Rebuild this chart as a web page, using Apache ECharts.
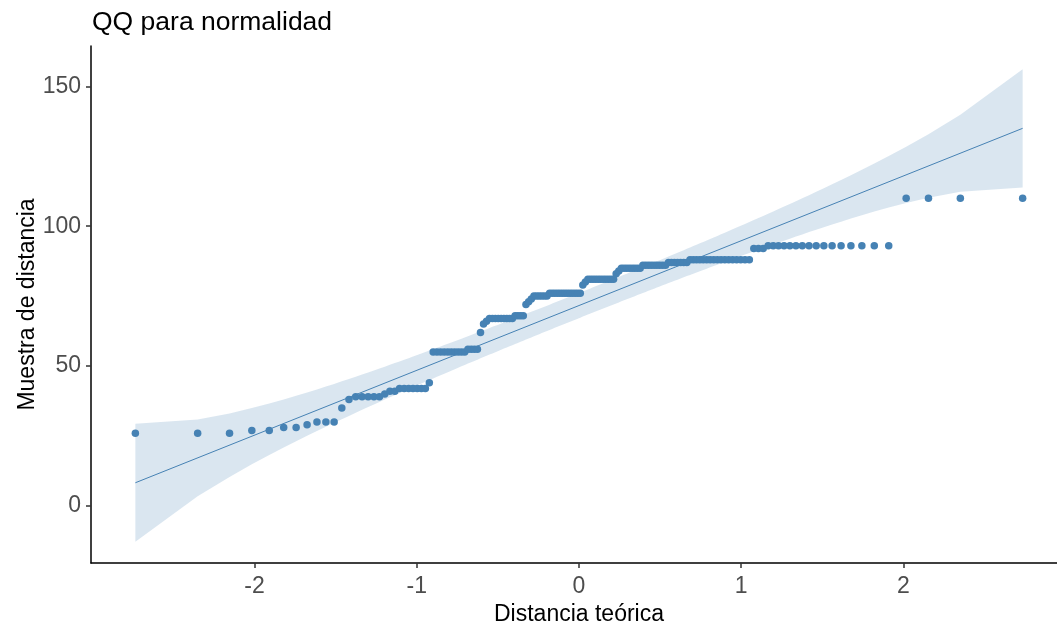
<!DOCTYPE html>
<html>
<head>
<meta charset="utf-8">
<title>QQ para normalidad</title>
<script src="https://cdn.jsdelivr.net/npm/echarts@6/dist/echarts.min.js"></script>
<style>
  html, body { margin: 0; padding: 0; background: #ffffff; }
  #chart { width: 1057px; height: 626px; }
</style>
</head>
<body>
<div id="chart"></div>
<script>
// Sorted sample of distances, run-length encoded: each value and how often it occurs.
const sampleValues = [26, 27, 28, 29, 30, 35, 38, 39, 40, 41, 42, 44, 55, 56, 62, 65, 66, 67, 68,
                      72, 73, 74, 75, 76, 79, 80, 81, 83, 84, 85, 86, 87, 88, 92, 93, 110];
const sampleCounts = [3, 2, 2, 1, 3, 1, 1, 5, 1, 2, 7, 1, 10, 4, 1, 1, 1, 9, 4,
                      1, 1, 1, 6, 13, 1, 1, 11, 1, 1, 8, 9, 7, 17, 3, 16, 4];
const xTickValues = [-2, -1, 0, 1, 2];
const yTickValues = [0, 50, 100, 150];
const yAxisRange = [-20.4, 164.4];
const confLevel = 0.95;

const FONT = '"Liberation Sans", Arial, sans-serif';
const STEEL = '#4682B4';

// Inverse of the standard normal CDF (Acklam's rational approximation).
function qnorm(p) {
  const a = [-3.969683028665376e+01, 2.209460984245205e+02, -2.759285104469687e+02,
             1.383577518672690e+02, -3.066479806614716e+01, 2.506628277459239e+00];
  const b = [-5.447609879822406e+01, 1.615858368580409e+02, -1.556989798598866e+02,
             6.680131188771972e+01, -1.328068155288572e+01];
  const c = [-7.784894002430293e-03, -3.223964580411365e-01, -2.400758277161838e+00,
             -2.549732539343734e+00, 4.374664141464968e+00, 2.938163982698783e+00];
  const d = [7.784695709041462e-03, 3.224671290700398e-01, 2.445134137142996e+00,
             3.754408661907416e+00];
  const pLow = 0.02425, pHigh = 1 - pLow;
  let q, r;
  if (p < pLow) {
    q = Math.sqrt(-2 * Math.log(p));
    return (((((c[0]*q + c[1])*q + c[2])*q + c[3])*q + c[4])*q + c[5]) /
           ((((d[0]*q + d[1])*q + d[2])*q + d[3])*q + 1);
  }
  if (p <= pHigh) {
    q = p - 0.5; r = q * q;
    return (((((a[0]*r + a[1])*r + a[2])*r + a[3])*r + a[4])*r + a[5]) * q /
           (((((b[0]*r + b[1])*r + b[2])*r + b[3])*r + b[4])*r + 1);
  }
  q = Math.sqrt(-2 * Math.log(1 - p));
  return -(((((c[0]*q + c[1])*q + c[2])*q + c[3])*q + c[4])*q + c[5]) /
          ((((d[0]*q + d[1])*q + d[2])*q + d[3])*q + 1);
}
function dnorm(z) { return Math.exp(-0.5 * z * z) / Math.sqrt(2 * Math.PI); }
function quantile7(sorted, p) {
  const h = (sorted.length - 1) * p, lo = Math.floor(h);
  const hi = Math.min(lo + 1, sorted.length - 1);
  return sorted[lo] + (h - lo) * (sorted[hi] - sorted[lo]);
}

// Expand the run-length table into the ordered sample.
const sample = [];
sampleValues.forEach((v, k) => { for (let j = 0; j < sampleCounts[k]; j++) sample.push(v); });
const n = sample.length;

// Plotting positions and theoretical normal quantiles.
const aPos = n <= 10 ? 3 / 8 : 0.5;
const probs = sample.map((_, i) => (i + 1 - aPos) / (n + 1 - 2 * aPos));
const theo = probs.map(qnorm);

// Reference line through the first and third quartiles.
const q1 = quantile7(sample, 0.25), q3 = quantile7(sample, 0.75);
const slope = (q3 - q1) / (qnorm(0.75) - qnorm(0.25));
const intercept = q1 - slope * qnorm(0.25);

// Pointwise confidence band around the reference line.
const zz = qnorm(1 - (1 - confLevel) / 2);
const band = theo.map((z, i) => {
  const fit = intercept + slope * z;
  const se = (slope / dnorm(z)) * Math.sqrt(probs[i] * (1 - probs[i]) / n);
  return [z, fit - zz * se, fit + zz * se];
});

const points = theo.map((z, i) => [z, sample[i]]);
const refLine = [[theo[0], intercept + slope * theo[0]],
                 [theo[n - 1], intercept + slope * theo[n - 1]]];

// Horizontal range padded by 5% on each side.
const xLo = theo[0], xHi = theo[n - 1];
const xPad = 0.05 * (xHi - xLo);

const axisCommon = {
  type: 'value',
  splitLine: { show: false },
  axisLine: { show: true, onZero: false, lineStyle: { color: '#000', width: 1.5 } },
  nameLocation: 'middle',
  nameTextStyle: { fontFamily: FONT, fontSize: 23, color: '#000' }
};

const chart = echarts.init(document.getElementById('chart'), null, { renderer: 'canvas' });
chart.setOption({
  animation: false,
  backgroundColor: '#ffffff',
  title: {
    text: 'QQ para normalidad',
    left: 87, top: 4,
    textStyle: { fontFamily: FONT, fontSize: 26.5, fontWeight: 'normal', color: '#000' }
  },
  // The panel runs a little past the right edge of the canvas.
  grid: { left: 91, top: 46, width: 976, height: 517, containLabel: false, outerBoundsMode: 'none' },
  xAxis: Object.assign({}, axisCommon, {
    min: xLo - xPad, max: xHi + xPad,
    name: 'Distancia teórica', nameGap: 39,
    axisTick: { show: true, length: 5, customValues: xTickValues, lineStyle: { color: '#333', width: 1.5 } },
    axisLabel: { customValues: xTickValues, fontFamily: FONT, fontSize: 23, color: '#4d4d4d', margin: 12 }
  }),
  yAxis: Object.assign({}, axisCommon, {
    min: yAxisRange[0], max: yAxisRange[1],
    name: 'Muestra de distancia', nameGap: 52, nameMoveOverlap: false,
    axisTick: { show: true, length: 5, customValues: yTickValues, lineStyle: { color: '#333', width: 1.5 } },
    axisLabel: { customValues: yTickValues, fontFamily: FONT, fontSize: 23, color: '#4d4d4d', margin: 10 }
  }),
  series: [
    {
      name: 'banda',
      type: 'custom',
      data: band,
      encode: { x: 0, y: [1, 2] },
      silent: true,
      z: 1,
      renderItem: function (params, api) {
        if (params.dataIndex !== 0) return null;
        const upper = band.map(r => api.coord([r[0], r[2]]));
        const lower = band.map(r => api.coord([r[0], r[1]])).reverse();
        return {
          type: 'polygon',
          shape: { points: upper.concat(lower) },
          style: { fill: 'rgba(70,130,180,0.2)', stroke: null }
        };
      }
    },
    {
      name: 'recta',
      type: 'line',
      data: refLine,
      showSymbol: false,
      symbol: 'none',
      silent: true,
      z: 2,
      lineStyle: { color: STEEL, width: 1 }
    },
    {
      name: 'muestra',
      type: 'scatter',
      data: points,
      symbolSize: 7.5,
      z: 3,
      itemStyle: { color: STEEL, opacity: 1 }
    }
  ]
});
</script>
</body>
</html>
